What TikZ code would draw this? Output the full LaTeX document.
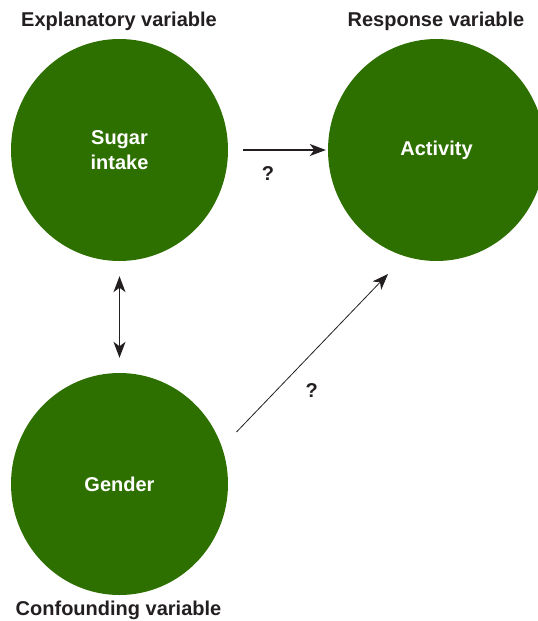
\documentclass[tikz,border=0pt]{standalone}
\usepackage{fontspec}
\setmainfont{Liberation Sans}
\usetikzlibrary{shapes.geometric, arrows.meta, positioning, calc}

\definecolor{hoja}{RGB}{46,112,0}
\definecolor{tinta}{RGB}{35,31,32}

\begin{document}
\begin{tikzpicture}[x=1pt, y=-1pt,
            bola/.style={ellipse, fill=hoja, draw=none, minimum width=217pt, minimum height=222pt, inner sep=0pt, align=center, text=white, font=\fontsize{20}{25}\selectfont\bfseries},
            rotulo/.style={anchor=base, text=tinta, inner sep=0pt, font=\fontsize{20}{24}\selectfont\bfseries},
            flecha/.style={tinta, line width=1.3pt, >={Stealth[length=16pt, width=12pt, inset=4.5pt]}}]

            \useasboundingbox (0,0) rectangle (538,621);

            \node[bola] (S) at (119.5,150) {Sugar\\intake};
            \node[bola] (A) at (436.5,150) {Activity};
            \node[bola] (G) at (119.5,484) {Gender};

            \node[rotulo] (tS) at (119,26) {Explanatory variable};
            \node[rotulo] (tA) at (436,26) {Response variable};
            \node[rotulo] (tG) at (118.5,615) {Confounding variable};

            \draw[flecha, ->, shorten <=15pt, shorten >=2pt] (S.east) -- (A.west);
            \node[rotulo] (q1) at (268,180) {?};
            \draw[flecha, <->, shorten <=15pt, shorten >=15pt] (S.south) -- (G.north);
            \draw[flecha, ->, line width=0.8pt] ([shift={(117,-52)}]G.center) -- ([shift={(-48.5,124)}]A.center);
            \node[rotulo] (q2) at (311.7,397) {?};
\end{tikzpicture}
\end{document}
